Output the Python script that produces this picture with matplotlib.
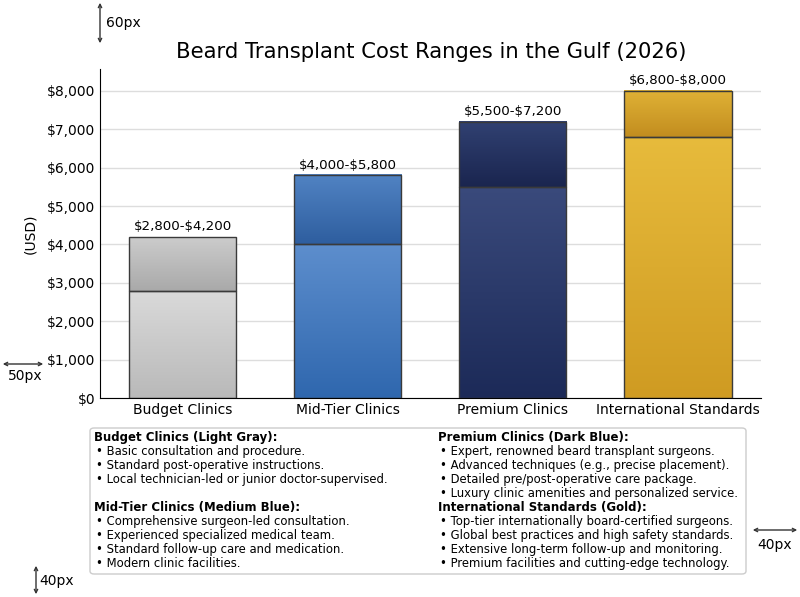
import matplotlib.pyplot as plt
import numpy as np
from matplotlib.colors import LinearSegmentedColormap
from matplotlib.patches import FancyBboxPatch, FancyArrowPatch
from matplotlib.ticker import FuncFormatter

# donnees du graphique
categories = ["Budget Clinics", "Mid-Tier Clinics", "Premium Clinics", "International Standards"]
low_cost = [2800, 4000, 5500, 6800]
high_cost = [4200, 5800, 7200, 8000]

# couleurs (haut clair -> bas fonce) pour la base et la partie haute
base_colors = [("#dadada", "#b9b9b9"), ("#5d8ecd", "#2f67ae"),
               ("#3a4a7c", "#1c2a58"), ("#e7bb3c", "#cf9b22")]
top_colors = [("#cccccc", "#a9a9a9"), ("#5183c3", "#2e5e9f"),
              ("#314172", "#1a254f"), ("#e0b236", "#c28d1f")]

left_title = "Budget Clinics (Light Gray):"
left_items = ["Basic consultation and procedure.",
              "Standard post-operative instructions.",
              "Local technician-led or junior doctor-supervised."]
left_title2 = "Mid-Tier Clinics (Medium Blue):"
left_items2 = ["Comprehensive surgeon-led consultation.",
               "Experienced specialized medical team.",
               "Standard follow-up care and medication.",
               "Modern clinic facilities."]
right_title = "Premium Clinics (Dark Blue):"
right_items = ["Expert, renowned beard transplant surgeons.",
               "Advanced techniques (e.g., precise placement).",
               "Detailed pre/post-operative care package.",
               "Luxury clinic amenities and personalized service."]
right_title2 = "International Standards (Gold):"
right_items2 = ["Top-tier internationally board-certified surgeons.",
                "Global best practices and high safety standards.",
                "Extensive long-term follow-up and monitoring.",
                "Premium facilities and cutting-edge technology."]

W, H = 800, 597
fig = plt.figure(figsize=(8, 5.97), dpi=100)
ax = fig.add_axes([100 / W, 1 - 398 / H, 660.5 / W, 329 / H])

x = np.arange(len(categories))
grad = np.linspace(0, 1, 256).reshape(-1, 1)


def gradient_fill(bar, c_top, c_bottom):
    # remplit le rectangle de la barre avec un degrade vertical
    cmap = LinearSegmentedColormap.from_list("g", [c_top, c_bottom])
    x0, y0 = bar.get_x(), bar.get_y()
    ax.imshow(grad, cmap=cmap, aspect="auto", interpolation="bicubic", origin="upper",
              extent=(x0, x0 + bar.get_width(), y0, y0 + bar.get_height()), zorder=2)


heights = [h - l for h, l in zip(high_cost, low_cost)]
bars_base = ax.bar(x, low_cost, width=0.65, facecolor="none", edgecolor="#3a3a3a", linewidth=1, zorder=3)
bars_top = ax.bar(x, heights, bottom=low_cost, width=0.65, facecolor="none",
                  edgecolor="#3a3a3a", linewidth=1, zorder=3)
for i in range(len(categories)):
    gradient_fill(bars_base[i], *base_colors[i])
    gradient_fill(bars_top[i], *top_colors[i])
    ax.text(x[i], high_cost[i] + 100, f"\\${low_cost[i]:,}-\\${high_cost[i]:,}",
            ha="center", va="bottom", fontsize=9.6)

ax.set_xlim(-0.5, 3.5)
ax.set_ylim(0, 8570)
ax.set_yticks(np.arange(0, 8001, 1000))
ax.yaxis.set_major_formatter(FuncFormatter(lambda v, p: f"${v:,.0f}"))
ax.set_xticks(x)
ax.set_xticklabels(categories, fontsize=10)
ax.tick_params(axis="y", labelsize=10, length=0)
ax.tick_params(axis="x", length=0)
ax.grid(axis="y", color="#dddddd", linewidth=1, zorder=0)
ax.set_axisbelow(True)
for s in ["top", "right"]:
    ax.spines[s].set_visible(False)
ax.set_ylabel("(USD)", fontsize=10)
ax.yaxis.set_label_coords(-0.095, 0.5)

fig.text(431 / W, 1 - 52 / H, "Beard Transplant Cost Ranges in the Gulf (2026)",
         ha="center", va="center", fontsize=15.2)

# boite de description
box = FancyBboxPatch((90 / W, 1 - 574 / H), 656 / W, 146 / H,
                     boxstyle="round,pad=0,rounding_size=0.005",
                     transform=fig.transFigure, facecolor="white",
                     edgecolor="#cccccc", linewidth=1)
fig.add_artist(box)


def column(xpx, blocks):
    ypx = 437
    for title, items, gap in blocks:
        fig.text(xpx / W, 1 - ypx / H, title, fontsize=8.5, fontweight="bold", va="center")
        ypx += 14.1
        for it in items:
            fig.text((xpx + 2) / W, 1 - ypx / H, "\u2022 " + it, fontsize=8.4, va="center")
            ypx += 14.1
        ypx += gap


column(94, [(left_title, left_items, 14.1), (left_title2, left_items2, 0)])
column(438, [(right_title, right_items, 0), (right_title2, right_items2, 0)])


# annotations de marges
def arrow(p1, p2):
    a = FancyArrowPatch((p1[0] / W, 1 - p1[1] / H), (p2[0] / W, 1 - p2[1] / H),
                        arrowstyle="<->", mutation_scale=6, color="#333333",
                        linewidth=1, transform=fig.transFigure)
    fig.add_artist(a)


arrow((100, 0), (100, 46))
fig.text(106 / W, 1 - 23 / H, "60px", fontsize=10, va="center")
arrow((0, 364), (46, 364))
fig.text(8 / W, 1 - 376 / H, "50px", fontsize=10, va="center")
arrow((36, 563), (36, 597))
fig.text(39 / W, 1 - 581 / H, "40px", fontsize=10, va="center")
arrow((750, 530), (800, 530))
fig.text(757 / W, 1 - 545 / H, "40px", fontsize=10, va="center")

fig.savefig("out.png", dpi=100)
